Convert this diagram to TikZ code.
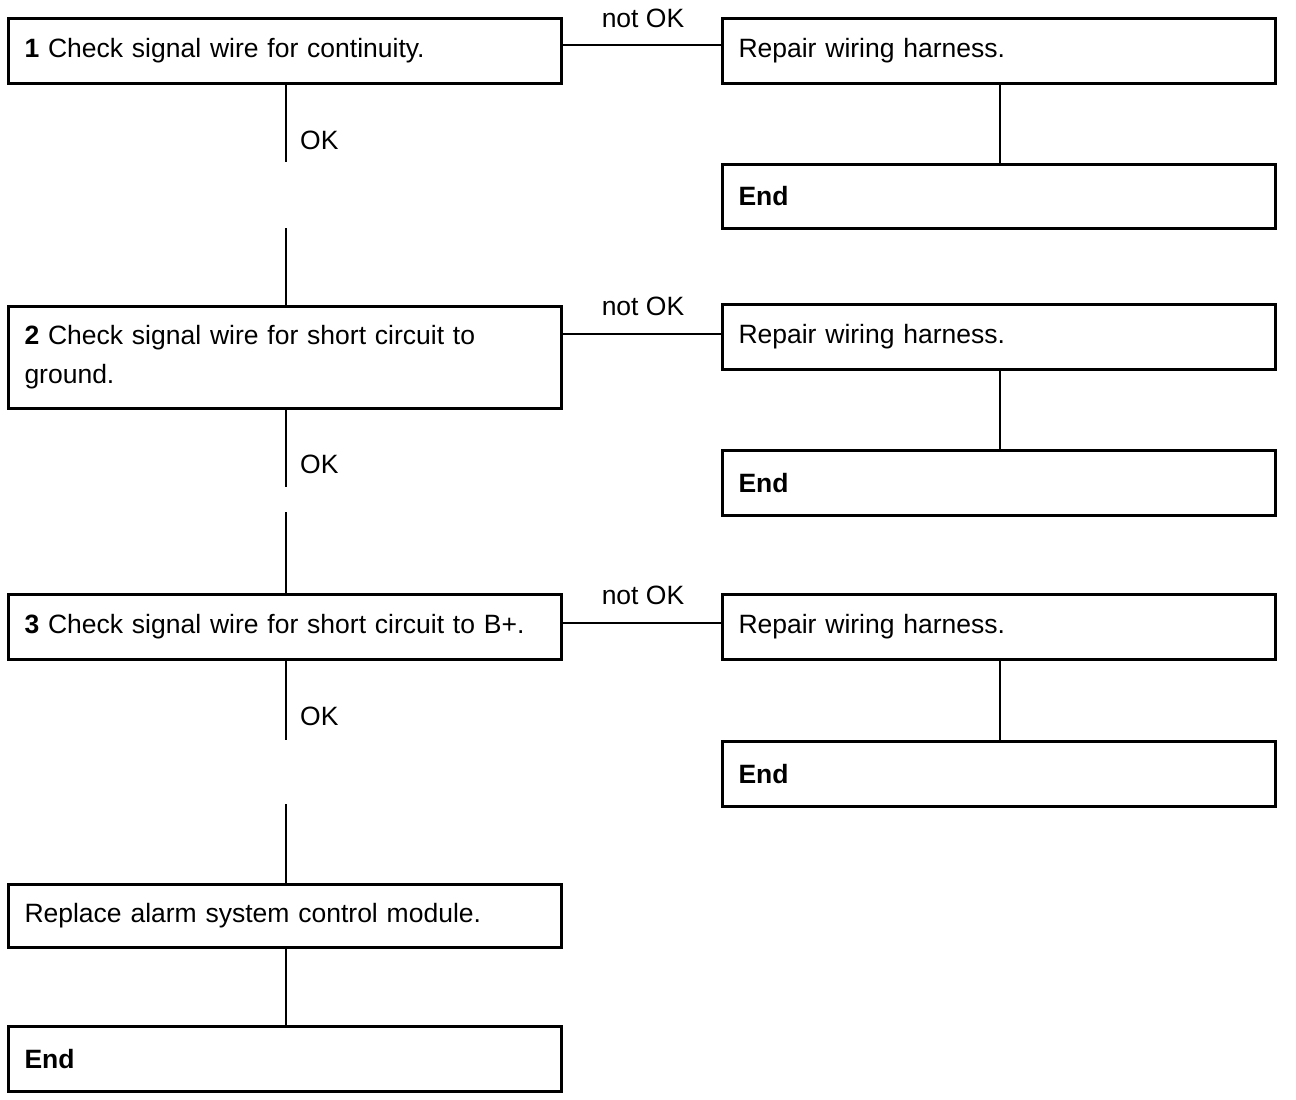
\documentclass[tikz,border=0pt]{standalone}
\usepackage{fontspec}
\setmainfont{Liberation Sans}
\begin{document}
\begin{tikzpicture}[x=1pt,y=-1pt,
  box/.style={draw,line width=3pt,rectangle,anchor=north west,minimum width=553pt,
    text width=521pt,inner xsep=16pt,inner ysep=0pt,align=left,
    font=\fontsize{26.5pt}{39pt}\selectfont},
  conn/.style={line width=2.2pt},
  lbl/.style={font=\fontsize{26.5pt}{39pt}\selectfont,inner sep=0pt}]
\useasboundingbox (0,0) rectangle (1296,1100);
% left column
\node[box,minimum height=65pt] (s1) at (7,17) {\textbf{1} Check signal wire for continuity.};
\node[box,minimum height=102pt] (s2) at (7,305) {\textbf{2} Check signal wire for short circuit to ground.};
\node[box,minimum height=65pt] (s3) at (7,593) {\textbf{3} Check signal wire for short circuit to B+.};
\node[box,minimum height=63pt] (rep) at (7,883) {Replace alarm system control module.};
\node[box,minimum height=65pt] (end0) at (7,1025) {\textbf{End}};
% right column
\node[box,minimum height=65pt] (r1) at (721,17) {Repair wiring harness.};
\node[box,minimum height=64pt] (e1) at (721,163) {\textbf{End}};
\node[box,minimum height=65pt] (r2) at (721,303) {Repair wiring harness.};
\node[box,minimum height=65pt] (e2) at (721,449) {\textbf{End}};
\node[box,minimum height=65pt] (r3) at (721,593) {Repair wiring harness.};
\node[box,minimum height=65pt] (e3) at (721,740) {\textbf{End}};
% gap coordinates
\coordinate (g1a) at (286,162);
\coordinate (g1b) at (286,228);
\coordinate (g2a) at (286,487);
\coordinate (g2b) at (286,512);
\coordinate (g3a) at (286,740);
\coordinate (g3b) at (286,804);
% vertical OK lines
\draw[conn] (s1.south -| g1a) -- (g1a);
\draw[conn] (g1b) -- (s2.north -| g1b);
\draw[conn] (s2.south -| g2a) -- (g2a);
\draw[conn] (g2b) -- (s3.north -| g2b);
\draw[conn] (s3.south -| g3a) -- (g3a);
\draw[conn] (g3b) -- (rep.north -| g3b);
\draw[conn] (rep.south -| g3b) -- (end0.north -| g3b);
\node[lbl,anchor=west] (ok1) at (300,140) {OK};
\node[lbl,anchor=west] (ok2) at (300,464) {OK};
\node[lbl,anchor=west] (ok3) at (300,716) {OK};
% horizontal not OK lines
\draw[conn] (s1.east |- 0,45) -- (r1.west |- 0,45);
\draw[conn] (s2.east |- 0,334) -- (r2.west |- 0,334);
\draw[conn] (s3.east |- 0,623) -- (r3.west |- 0,623);
\node[lbl] (n1) at (643,18) {not OK};
\node[lbl] (n2) at (643,306) {not OK};
\node[lbl] (n3) at (643,595) {not OK};
% right verticals
\draw[conn] (r1.south -| 1000,0) -- (e1.north -| 1000,0);
\draw[conn] (r2.south -| 1000,0) -- (e2.north -| 1000,0);
\draw[conn] (r3.south -| 1000,0) -- (e3.north -| 1000,0);
\end{tikzpicture}
\end{document}
